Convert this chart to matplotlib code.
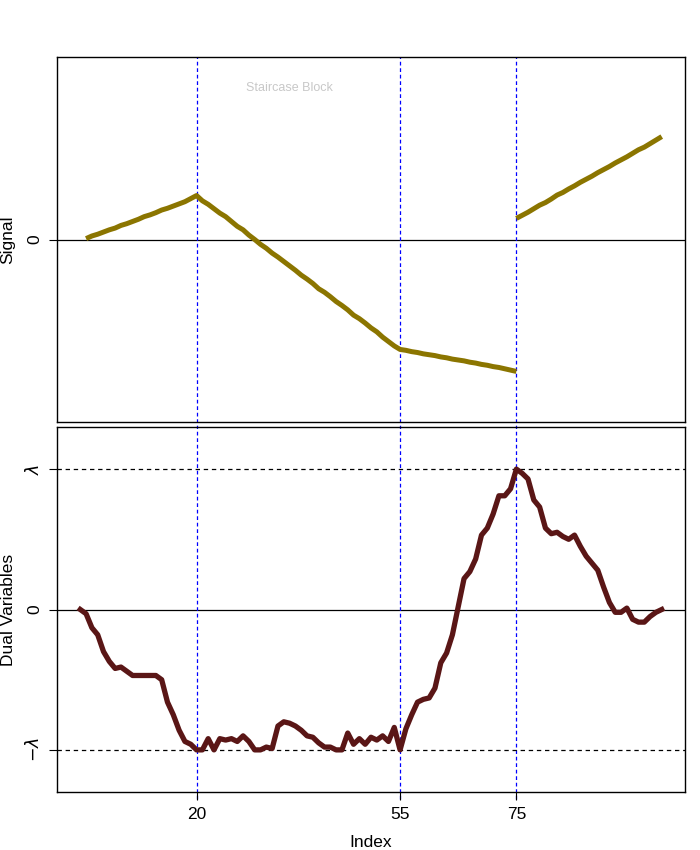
import matplotlib
matplotlib.use("Agg")
import matplotlib.pyplot as plt
import numpy as np

plt.rcParams['font.family'] = ['Liberation Sans', 'DejaVu Sans']

# ---- data ----
knots = [20, 55, 75]
x_block_a = list(range(1, 76))
signal_block_a = [0.02, 0.08, 0.12, 0.17, 0.22, 0.26, 0.32, 0.36, 0.41, 0.46,
                  0.52, 0.56, 0.61, 0.67, 0.71, 0.76, 0.81, 0.86, 0.93, 1.00,
                  0.88, 0.80, 0.70, 0.60, 0.52, 0.41, 0.30, 0.22, 0.10, 0.00,
                  -0.11, -0.20, -0.31, -0.40, -0.50, -0.60, -0.70, -0.81, -0.90, -1.00,
                  -1.12, -1.20, -1.30, -1.41, -1.50, -1.60, -1.72, -1.80, -1.90, -2.01,
                  -2.10, -2.22, -2.32, -2.42, -2.50,
                  -2.52, -2.55, -2.57, -2.60, -2.62, -2.64, -2.67, -2.69, -2.72, -2.74,
                  -2.76, -2.79, -2.81, -2.84, -2.86, -2.89, -2.91, -2.94, -2.97, -3.00]
x_block_b = list(range(75, 101))
signal_block_b = [0.48, 0.55, 0.62, 0.70, 0.78, 0.84, 0.92, 1.01, 1.07, 1.15,
                  1.22, 1.30, 1.37, 1.44, 1.52, 1.59, 1.66, 1.74, 1.81, 1.88,
                  1.96, 2.04, 2.10, 2.18, 2.26, 2.34]

lam = 1.0
x_dual = list(range(0, 101))
dual = [0.00, -0.03, -0.13, -0.18, -0.30, -0.37, -0.42, -0.41, -0.44, -0.47,
        -0.47, -0.47, -0.47, -0.47, -0.50, -0.66, -0.75, -0.86, -0.94, -0.96,
        -1.00, -1.00, -0.92, -1.00, -0.92, -0.93, -0.92, -0.94, -0.90, -0.94,
        -1.00, -1.00, -0.98, -0.99, -0.83, -0.80, -0.81, -0.83, -0.86, -0.90,
        -0.91, -0.95, -0.98, -0.98, -1.00, -1.00, -0.88, -0.96, -0.92, -0.96,
        -0.91, -0.93, -0.90, -0.94, -0.84, -1.00, -0.85, -0.75, -0.66, -0.64,
        -0.63, -0.56, -0.38, -0.31, -0.18, 0.02, 0.22, 0.27, 0.36, 0.53,
        0.58, 0.68, 0.81, 0.81, 0.86, 1.00, 0.97, 0.93, 0.78, 0.73,
        0.58, 0.54, 0.55, 0.52, 0.50, 0.53, 0.45, 0.38, 0.33, 0.28,
        0.16, 0.05, -0.02, -0.02, 0.01, -0.07, -0.09, -0.09, -0.05, -0.02,
        0.00]
xtick_vals = [20, 55, 75]

sig_color = '#8B7500'
dual_color = '#5a1616'

fig = plt.figure(figsize=(7, 8.5), dpi=100)
ax1 = fig.add_axes([57/700, 1-422/850, 628/700, 365/850])
ax2 = fig.add_axes([57/700, 1-792/850, 628/700, 365/850])

for ax in (ax1, ax2):
    ax.set_xlim(-4, 104)
    for s in ax.spines.values():
        s.set_linewidth(1.0)
        s.set_color('black')
    ax.tick_params(axis='both', direction='out', length=5.5, width=0.8,
                   labelsize=12.5, pad=5)
    ax.axhline(0, color='black', lw=0.9, zorder=1)
    for k in knots:
        ax.axvline(k, color='blue', lw=0.9, dashes=(3, 2.2), zorder=1,
                   ymin=-0.02, ymax=1.0, clip_on=False)

# top panel
ax1.plot(x_block_a, signal_block_a, color=sig_color, lw=3.6, solid_capstyle='butt', zorder=3)
ax1.plot(x_block_b, signal_block_b, color=sig_color, lw=3.6, solid_capstyle='butt', zorder=3)
ax1.set_ylim(-4.15, 4.15)
ax1.set_xticks([])
ax1.set_yticks([0])
ax1.set_yticklabels(['0'], rotation=90, va='center')
ax1.set_ylabel('Signal', fontsize=12.5)
ax1.yaxis.set_label_coords(-0.066, 0.5)
ax1.text(36, 3.45, 'Staircase Block', color='#c8c8c8', fontsize=9,
         ha='center', va='center')

# bottom panel
ax2.plot(x_dual, dual, color=dual_color, lw=3.8, zorder=3)
ax2.axhline(lam, color='black', lw=0.9, dashes=(3.5, 3), zorder=1)
ax2.axhline(-lam, color='black', lw=0.9, dashes=(3.5, 3), zorder=1)
ax2.set_ylim(-1.3 * lam, 1.3 * lam)
ax2.set_yticks([-lam, 0, lam])
ax2.set_yticklabels([r'$-\lambda$', '0', r'$\lambda$'], rotation=90, va='center')
ax2.set_xticks(xtick_vals)
ax2.set_xticklabels([str(v) for v in xtick_vals])
ax2.set_ylabel('Dual Variables', fontsize=12.5)
ax2.yaxis.set_label_coords(-0.066, 0.5)
ax2.set_xlabel('Index', fontsize=12.5)
ax2.xaxis.set_label_coords(0.5, -0.118)

fig.savefig('out.png', dpi=100)
